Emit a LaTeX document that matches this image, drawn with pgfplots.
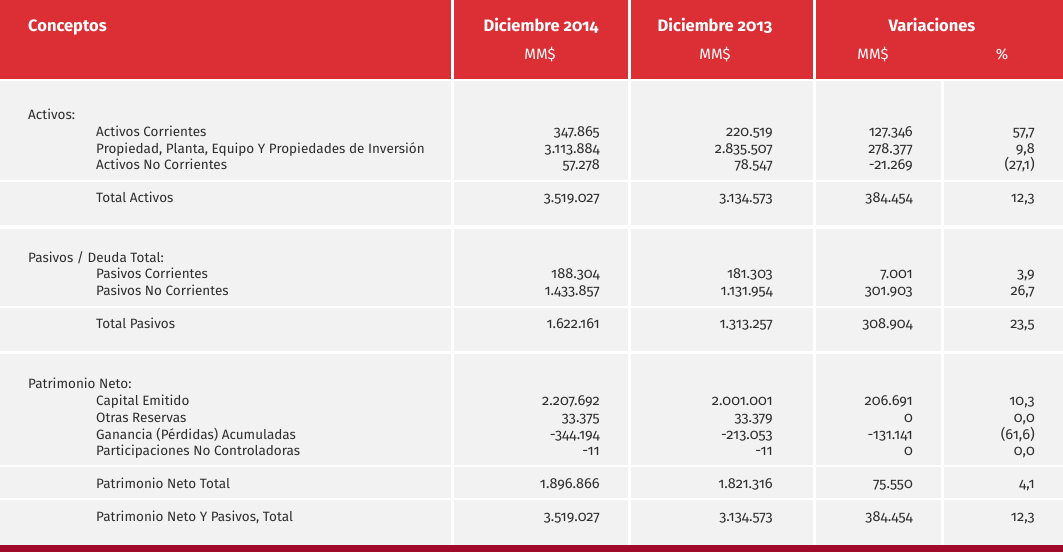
\documentclass[border=0pt]{standalone}
\usepackage{pgfplots}
\usepackage{pgfplotstable}
\pgfplotsset{compat=1.18}
\usepackage{fontspec}
\setmainfont{Fira Sans}[Numbers=OldStyle]
\definecolor{hdr}{HTML}{DC2F35}
\definecolor{bg}{HTML}{F2F2F2}
\definecolor{botbar}{HTML}{A0092A}
\definecolor{txt}{HTML}{2E2E2E}

\pgfplotstableread[col sep=semicolon]{
y;x;label
119;28;Activos:
136;96;Activos Corrientes
153;96;Propiedad, Planta, Equipo Y Propiedades de Inversión
169;96;Activos No Corrientes
202;96;Total Activos
262;28;Pasivos / Deuda Total:
278;96;Pasivos Corrientes
295;96;Pasivos No Corrientes
328;96;Total Pasivos
388;28;Patrimonio Neto:
405;96;Capital Emitido
422;96;Otras Reservas
439;96;Ganancia (Pérdidas) Acumuladas
455;96;Participaciones No Controladoras
488;96;Patrimonio Neto Total
521;96;Patrimonio Neto Y Pasivos, Total
}\labels

\pgfplotstableread{
y c1 c2 c3 c4
136 347.865 220.519 127.346 57,7
153 3.113.884 2.835.507 278.377 9,8
169 57.278 78.547 -21.269 (27,1)
202 3.519.027 3.134.573 384.454 12,3
278 188.304 181.303 7.001 3,9
295 1.433.857 1.131.954 301.903 26,7
328 1.622.161 1.313.257 308.904 23,5
405 2.207.692 2.001.001 206.691 10,3
422 33.375 33.379 0 0,0
439 -344.194 -213.053 -131.141 (61,6)
455 -11 -11 0 0,0
488 1.896.866 1.821.316 75.550 4,1
521 3.519.027 3.134.573 384.454 12,3
}\nums

\pgfplotsset{
  txtplot/.style={only marks, mark=*, mark size=0pt, mark options={draw=none,fill=none},
    nodes near coords, point meta=explicit symbolic,
    every node near coord/.append style={inner sep=0pt, text=txt, #1}},
}

\begin{document}
\begin{tikzpicture}
\begin{axis}[width=1063pt, height=552pt, scale only axis, hide axis,
  xmin=0, xmax=1063, ymin=0, ymax=552, y dir=reverse, clip=false]
% header cells
\foreach \l/\r in {0/451,454/628,631/813,816/1063}{
  \edef\tmp{\noexpand\fill[hdr] (axis cs:\l,0) rectangle (axis cs:\r,79);}\tmp
}
% body cells
\foreach \a/\b in {81/180,182/225,229/306,308/351,354/465,467/498,500/545}{
  \foreach \l/\r in {0/451,454/628,631/813,816/941,944/1063}{
    \edef\tmp{\noexpand\fill[bg] (axis cs:\l,\a) rectangle (axis cs:\r,\b);}\tmp
  }
}
\fill[botbar] (axis cs:0,545) rectangle (axis cs:1063,552);
% header text
\node[anchor=base west, inner sep=0pt, text=white, font=\bfseries\fontsize{16.5}{18}\selectfont] at (axis cs:28,31) {Conceptos};
\node[anchor=base, inner sep=0pt, text=white, font=\bfseries\fontsize{16.5}{18}\selectfont] at (axis cs:541,31) {Diciembre 2014};
\node[anchor=base, inner sep=0pt, text=white, font=\bfseries\fontsize{16.5}{18}\selectfont] at (axis cs:715,31) {Diciembre 2013};
\node[anchor=base, inner sep=0pt, text=white, font=\bfseries\fontsize{16.5}{18}\selectfont] at (axis cs:932,31) {Variaciones};
\node[anchor=base, inner sep=0pt, text=white, font=\fontsize{15}{17}\selectfont] at (axis cs:540,59) {MM\$};
\node[anchor=base, inner sep=0pt, text=white, font=\fontsize{15}{17}\selectfont] at (axis cs:715,59) {MM\$};
\node[anchor=base, inner sep=0pt, text=white, font=\fontsize{15}{17}\selectfont] at (axis cs:873,59) {MM\$};
\node[anchor=base, inner sep=0pt, text=white, font=\fontsize{15}{17}\selectfont] at (axis cs:1002,59) {\%};
% labels
\addplot[txtplot={anchor=base west, font=\fontsize{13.5}{15}\selectfont}] table[x=x, y=y, meta=label] {\labels};
% numbers
\addplot[txtplot={anchor=base east, font=\fontsize{14.5}{16}\selectfont}] table[x expr=600, y=y, meta=c1] {\nums};
\addplot[txtplot={anchor=base east, font=\fontsize{14.5}{16}\selectfont}] table[x expr=773, y=y, meta=c2] {\nums};
\addplot[txtplot={anchor=base east, font=\fontsize{14.5}{16}\selectfont}] table[x expr=913, y=y, meta=c3] {\nums};
\addplot[txtplot={anchor=base east, font=\fontsize{14.5}{16}\selectfont}] table[x expr=1035, y=y, meta=c4] {\nums};
\end{axis}
\end{tikzpicture}
\end{document}
